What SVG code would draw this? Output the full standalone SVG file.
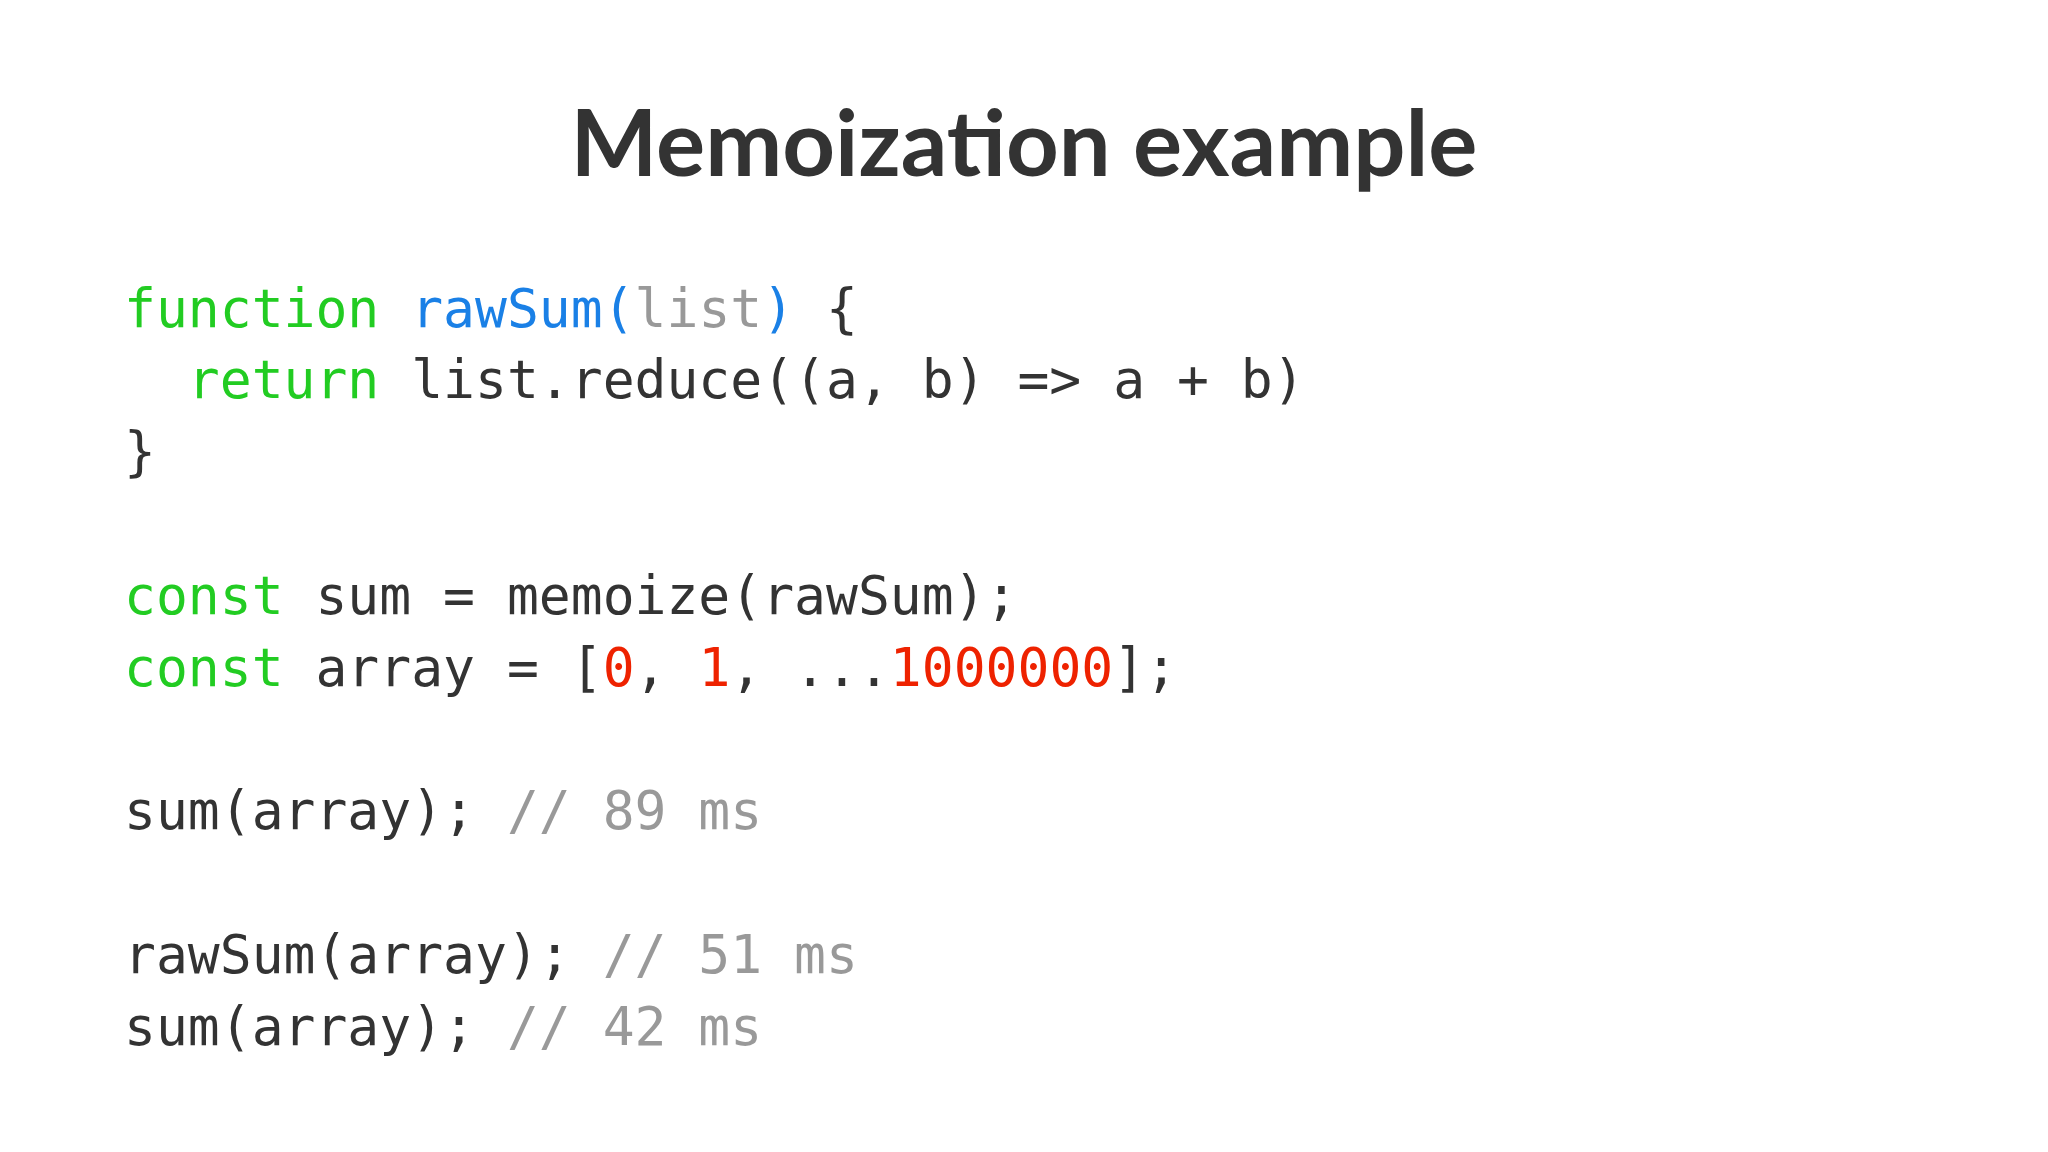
<svg xmlns="http://www.w3.org/2000/svg" width="2048" height="1152" viewBox="0 0 2048 1152">
<style>
.t{font-family:Lato,"Liberation Sans",sans-serif;font-weight:bold;font-size:92px;fill:#333;}
.c{font-family:"DejaVu Sans Mono","Liberation Mono",monospace;font-size:53px;fill:#333;white-space:pre;}
.k{fill:#22cc22}.f{fill:#1a80e6}.g{fill:#999}.n{fill:#ee2200}
</style>
<rect width="2048" height="1152" fill="#fff"/>
<g id="title"><text class="t" x="1024" y="176" text-anchor="middle">Memoization example</text></g>
<g id="code">
<text class="c" x="124" y="327" xml:space="preserve"><tspan class="k">function</tspan> <tspan class="f">rawSum(</tspan><tspan class="g">list</tspan><tspan class="f">)</tspan> {</text>
<text class="c" x="124" y="398" xml:space="preserve">  <tspan class="k">return</tspan> list.reduce((a, b) =&gt; a + b)</text>
<text class="c" x="124" y="470" xml:space="preserve">}</text>
<text class="c" x="124" y="614" xml:space="preserve"><tspan class="k">const</tspan> sum = memoize(rawSum);</text>
<text class="c" x="124" y="686" xml:space="preserve"><tspan class="k">const</tspan> array = [<tspan class="n">0</tspan>, <tspan class="n">1</tspan>, ...<tspan class="n">1000000</tspan>];</text>
<text class="c" x="124" y="829" xml:space="preserve">sum(array); <tspan class="g">// 89 ms</tspan></text>
<text class="c" x="124" y="973" xml:space="preserve">rawSum(array); <tspan class="g">// 51 ms</tspan></text>
<text class="c" x="124" y="1045" xml:space="preserve">sum(array); <tspan class="g">// 42 ms</tspan></text>
</g>
</svg>
